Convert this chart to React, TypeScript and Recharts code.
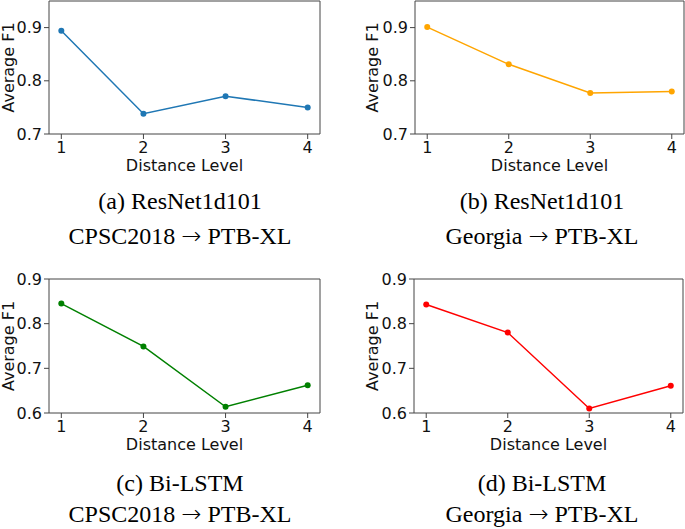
import { LineChart, Line, XAxis, YAxis, ReferenceArea } from "recharts"

const levels = [1, 2, 3, 4]
const resnetCpsc = [0.894, 0.738, 0.771, 0.75]
const resnetGeorgia = [0.901, 0.831, 0.777, 0.78]
const lstmCpsc = [0.845, 0.749, 0.614, 0.662]
const lstmGeorgia = [0.843, 0.78, 0.61, 0.661]

const topTicks = [0.7, 0.8, 0.9]
const bottomTicks = [0.6, 0.7, 0.8, 0.9]
const topDomain = [0.7, 0.95]
const bottomDomain = [0.6, 0.9]
const xDomain = [0.85, 4.15]

const SANS = "DejaVu Sans"
const SERIF = "Liberation Serif"
const INK = "#111"
const FRAME = "#444"

interface PanelProps {
  left: number
  top: number
  width: number
  height: number
  marginTop: number
  marginRight: number
  yAxisWidth: number
  xAxisHeight: number
  values: number[]
  color: string
  yDomain: number[]
  yTicks: number[]
  yLabelX: number
}

function Panel(p: PanelProps) {
  const data = levels.map((level, i) => ({ level, value: p.values[i] }))

  const xLabel = (props: any) => {
    const vb = props.viewBox
    return (
      <text x={vb.x + vb.width / 2} y={vb.y + 37} textAnchor="middle" fill={INK} fontSize={16} fontFamily={SANS}>
        Distance Level
      </text>
    )
  }

  const yLabel = (props: any) => {
    const vb = props.viewBox
    const cy = vb.y + vb.height / 2
    return (
      <text
        x={p.yLabelX}
        y={cy}
        transform={`rotate(-90, ${p.yLabelX}, ${cy})`}
        textAnchor="middle"
        fill={INK}
        fontSize={16}
        fontFamily={SANS}
      >
        Average F1
      </text>
    )
  }

  return (
    <div style={{ position: "absolute", left: p.left, top: p.top }}>
      <LineChart
        width={p.width}
        height={p.height}
        data={data}
        margin={{ top: p.marginTop, right: p.marginRight, bottom: 0, left: 0 }}
      >
        <XAxis
          dataKey="level"
          type="number"
          domain={xDomain}
          ticks={levels}
          allowDataOverflow
          height={p.xAxisHeight}
          axisLine={false}
          tickLine={{ stroke: FRAME }}
          tickSize={5}
          tickMargin={3}
          tick={{ fill: INK, fontSize: 16, fontFamily: SANS }}
          label={xLabel}
        />
        <YAxis
          type="number"
          domain={p.yDomain}
          ticks={p.yTicks}
          allowDataOverflow
          width={p.yAxisWidth}
          axisLine={false}
          tickLine={{ stroke: FRAME }}
          tickSize={5}
          tickMargin={2}
          tickFormatter={(v: number) => v.toFixed(1)}
          tick={{ fill: INK, fontSize: 16, fontFamily: SANS }}
          label={yLabel}
        />
        <ReferenceArea
          x1={xDomain[0]}
          x2={xDomain[1]}
          y1={p.yDomain[0]}
          y2={p.yDomain[1]}
          fill="none"
          stroke={FRAME}
          strokeWidth={1}
          ifOverflow="visible"
        />
        <Line
          type="linear"
          dataKey="value"
          stroke={p.color}
          strokeWidth={1.5}
          dot={{ r: 3, fill: p.color, stroke: p.color, strokeWidth: 0 }}
          isAnimationActive={false}
        />
      </LineChart>
    </div>
  )
}

function Caption({ x, y1, y2, title, from }: { x: number; y1: number; y2: number; title: string; from: string }) {
  return (
    <>
      <text x={x} y={y1} textAnchor="middle" fontSize={24} fontFamily={SERIF} fill="#000">
        {title}
      </text>
      <text x={x} y={y2} textAnchor="middle" fontSize={24} fontFamily={SERIF} fill="#000">
        {from}{" "}
        <tspan fontFamily="DejaVu Sans" fontWeight={300}>→</tspan>
        {" "}PTB-XL
      </text>
    </>
  )
}

export default function App() {
  return (
    <div style={{ position: "absolute", left: 0, top: 0, width: 685, height: 529, background: "#fff", overflow: "hidden" }}>
      <Panel
        left={0} top={0} width={340} height={180}
        marginTop={1} marginRight={20} yAxisWidth={49} xAxisHeight={46}
        values={resnetCpsc} color="#1f77b4" yDomain={topDomain} yTicks={topTicks} yLabelX={14}
      />
      <Panel
        left={340} top={0} width={345} height={180}
        marginTop={1} marginRight={1} yAxisWidth={75} xAxisHeight={46}
        values={resnetGeorgia} color="#ffa500" yDomain={topDomain} yTicks={topTicks} yLabelX={38}
      />
      <Panel
        left={0} top={260} width={340} height={200}
        marginTop={19} marginRight={20} yAxisWidth={49} xAxisHeight={47}
        values={lstmCpsc} color="#008000" yDomain={bottomDomain} yTicks={bottomTicks} yLabelX={14}
      />
      <Panel
        left={340} top={260} width={345} height={200}
        marginTop={19} marginRight={2} yAxisWidth={74} xAxisHeight={47}
        values={lstmGeorgia} color="#ff0000" yDomain={bottomDomain} yTicks={bottomTicks} yLabelX={38}
      />
      <svg width={685} height={529} style={{ position: "absolute", left: 0, top: 0, pointerEvents: "none" }}>
        <Caption x={180} y1={209} y2={244} title="(a) ResNet1d101" from="CPSC2018" />
        <Caption x={542} y1={209} y2={244} title="(b) ResNet1d101" from="Georgia" />
        <Caption x={180} y1={491} y2={522} title="(c) Bi-LSTM" from="CPSC2018" />
        <Caption x={542} y1={491} y2={522} title="(d) Bi-LSTM" from="Georgia" />
      </svg>
    </div>
  )
}
